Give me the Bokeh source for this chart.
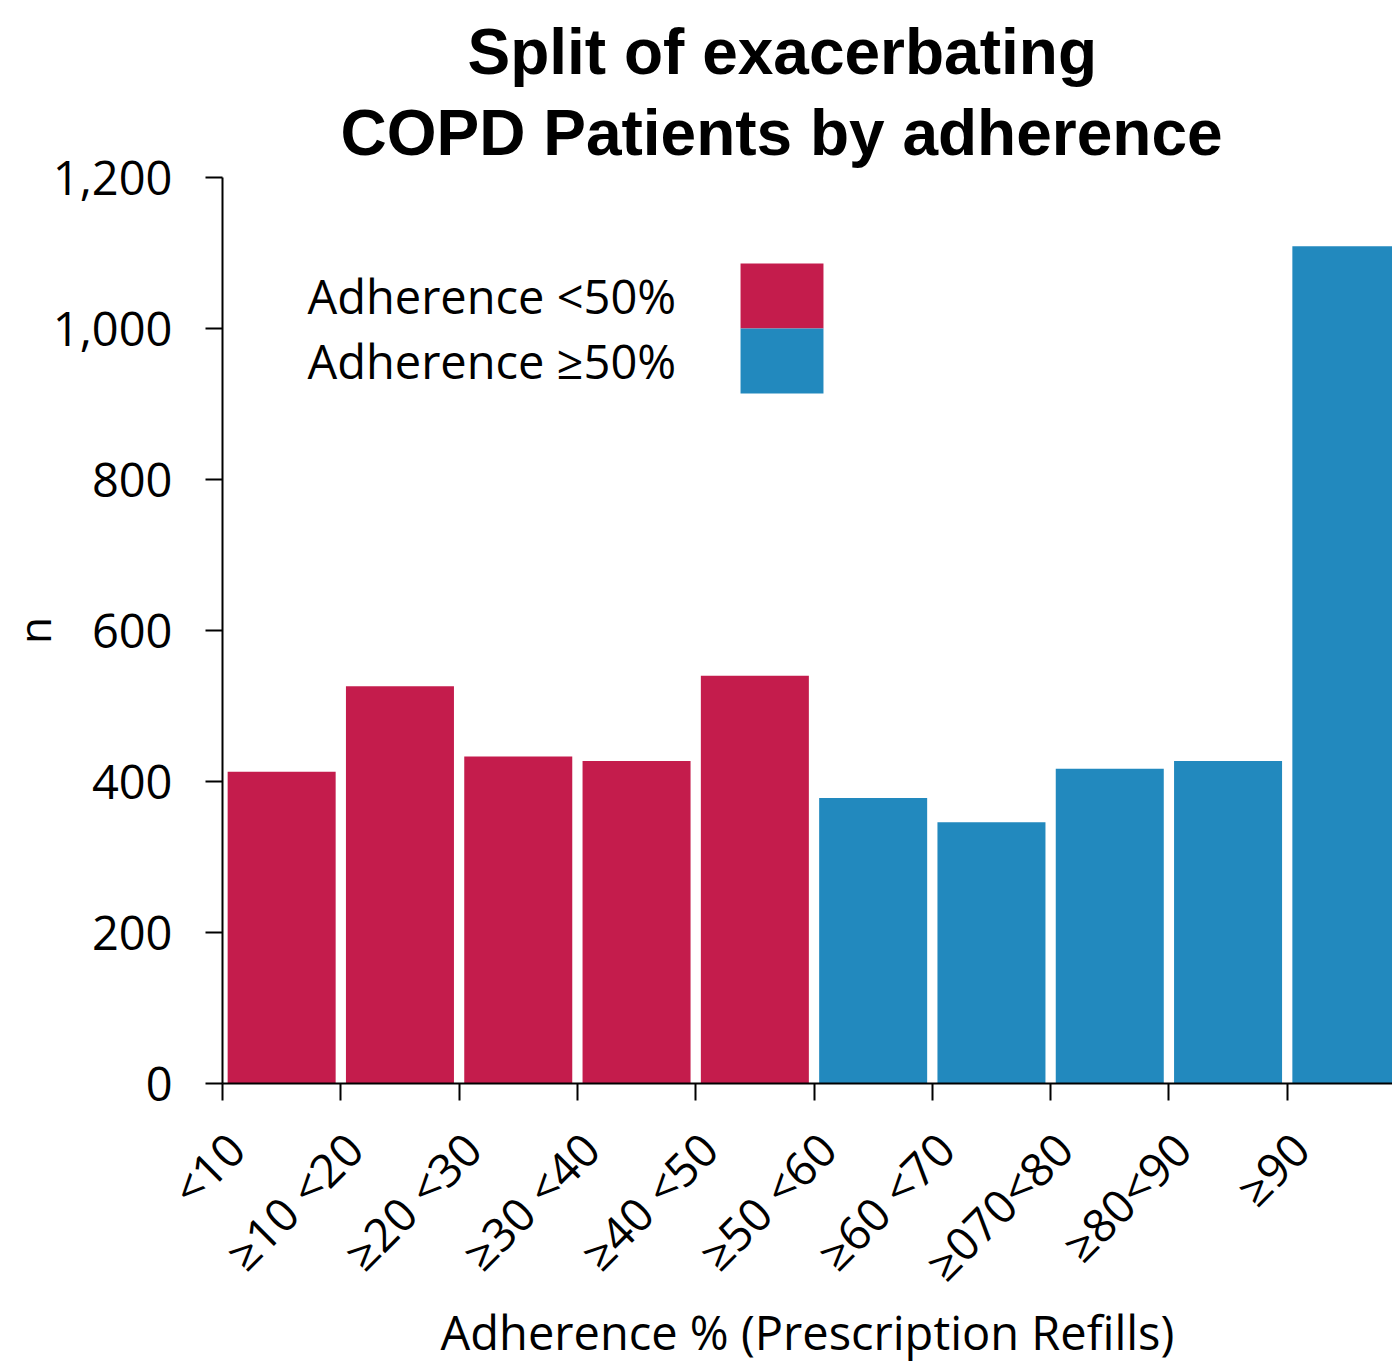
import math
from bokeh.plotting import figure
from bokeh.models import (ColumnDataSource, FixedTicker, Range1d, NumeralTickFormatter,
                          Title, CustomJSTickFormatter)
from bokeh.core.properties import value
from bokeh.embed import file_html
from bokeh.resources import INLINE

# ---- data ----
categories = ["<10", "≥10 <20", "≥20 <30", "≥30 <40", "≥40 <50",
              "≥50 <60", "≥60 <70", "≥070<80", "≥80<90", "≥90"]
counts = [413, 526, 433, 427, 540, 378, 346, 417, 427, 1109]
groups = ["Adherence <50%"] * 5 + ["Adherence ≥50%"] * 5
group_names = ["Adherence <50%", "Adherence ≥50%"]
group_colors = ["#C41C4C", "#2289BE"]
y_ticks = [0, 200, 400, 600, 800, 1000, 1200]

title_lines = ["Split of exacerbating", "COPD Patients by adherence"]
x_title = "Adherence % (Prescription Refills)"
y_title = "n"

FONT = "Open Sans"
n = len(categories)
centers = [i + 0.5 for i in range(n)]
bounds = list(range(n))
color_of = dict(zip(group_names, group_colors))

src = ColumnDataSource(dict(
    x=centers, top=counts, cat=categories, grp=groups,
    color=[color_of[g] for g in groups],
))

p = figure(width=1392, height=1366, output_backend="svg", toolbar_location=None,
           x_range=Range1d(0, 9.89), y_range=Range1d(0, 1200),
           min_border_left=222, min_border_right=0, min_border_top=177,
           min_border_bottom=283, title=None)
p.outline_line_color = None
p.grid.visible = False
p.background_fill_color = "white"
p.border_fill_color = "white"

p.vbar(x="x", top="top", width=0.913, bottom=0, color="color", line_color=None, source=src)

# titles (added bottom line first: closest to plot)
title_offsets = [245, 118]   # px from frame left, per line
title_standoffs = [-2, 17]
for line, off, so in reversed(list(zip(title_lines, title_offsets, title_standoffs))):
    t = Title(text=line, align="left", text_font="Liberation Sans",
              text_font_size="64px", text_font_style="bold", text_color="black",
              standoff=so, offset=off)
    p.add_layout(t, "above")

# x axis
xa = p.xaxis[0]
label_shift = -0.39
xa.ticker = FixedTicker(ticks=[c + label_shift for c in centers], minor_ticks=bounds)
xa.formatter = CustomJSTickFormatter(args=dict(labels=categories),
                                     code="return labels[Math.floor(tick)];")
xa.major_label_orientation = math.pi / 4
xa.major_tick_out = 0
xa.major_tick_in = 0
xa.minor_tick_out = 17
xa.minor_tick_in = 0
xa.minor_tick_line_color = "black"
xa.minor_tick_line_width = 2
xa.axis_line_width = 2
xa.axis_line_color = "black"
xa.major_label_text_font = FONT
xa.major_label_text_font_size = "46px"
xa.major_label_text_color = "black"
xa.major_label_standoff = 40
xa.axis_label = x_title
xa.axis_label_text_font = FONT
xa.axis_label_text_font_size = "47px"
xa.axis_label_text_font_style = "normal"
xa.axis_label_text_color = "black"
xa.axis_label_standoff = -18

# y axis
ya = p.yaxis[0]
ya.ticker = FixedTicker(ticks=y_ticks)
ya.formatter = NumeralTickFormatter(format="0,0")
ya.major_tick_out = 17
ya.major_tick_in = 0
ya.minor_tick_out = 0
ya.minor_tick_in = 0
ya.major_tick_line_width = 2
ya.major_tick_line_color = "black"
ya.axis_line_width = 2
ya.axis_line_color = "black"
ya.major_label_text_font = FONT
ya.major_label_text_font_size = "47px"
ya.major_label_text_color = "black"
ya.major_label_standoff = 33
ya.axis_label = y_title
ya.axis_label_text_font = FONT
ya.axis_label_text_font_size = "44px"
ya.axis_label_text_font_style = "normal"
ya.axis_label_text_color = "black"
ya.axis_label_standoff = -14

# legend (text left, stacked swatches right)
leg_text_x = 0.718
leg_text_y = [1043, 957]
p.text(x=[leg_text_x] * 2, y=leg_text_y, text=group_names,
       text_font=value(FONT), text_font_size="47px", text_color="black",
       text_align="left", text_baseline="alphabetic")
p.quad(left=[4.379] * 2, right=[5.08] * 2, top=[1086, 1000], bottom=[1000, 914],
       color=group_colors, line_color=None)

open("out.html", "w").write(file_html(p, INLINE))
